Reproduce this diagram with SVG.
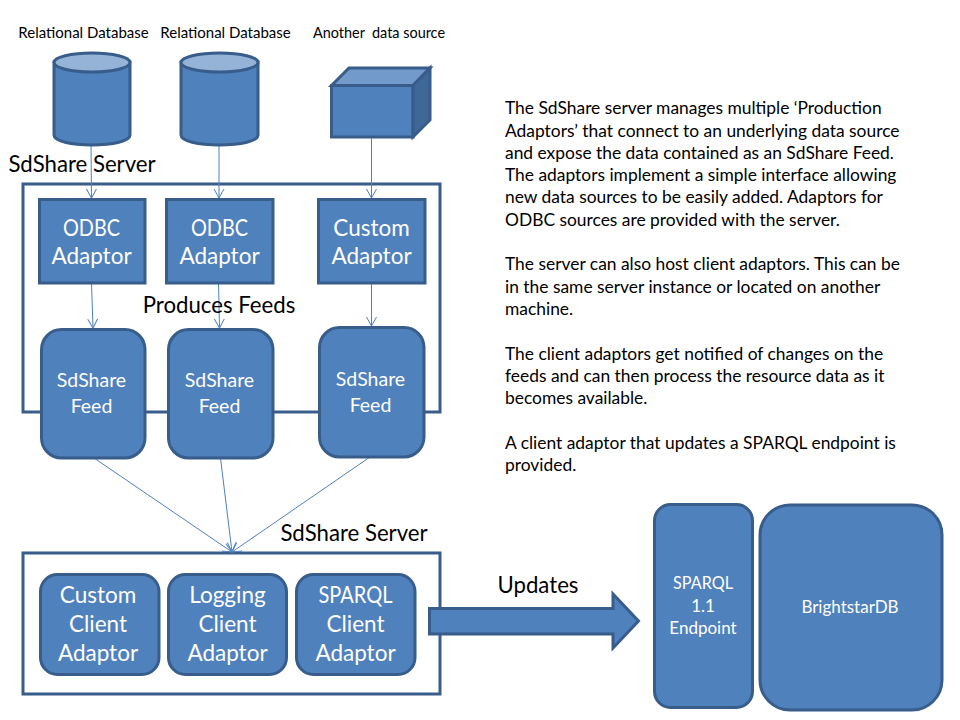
<svg xmlns="http://www.w3.org/2000/svg" width="960" height="720" viewBox="0 0 960 720">
<style>
text{font-family:Lato,"Open Sans",sans-serif;text-anchor:middle}
.s{fill:#4f81bd;stroke:#385d8a;stroke-width:3}
.f{fill:none;stroke:#385d8a;stroke-width:3}
.c{fill:none;stroke:#4f81bd;stroke-width:1;marker-end:url(#a)}
.w{fill:#fff}
.k{fill:#000}
.t22{font-size:22.500px}.t20{font-size:19.500px}.t13{font-size:15px}.t16{font-size:17px}.b{font-size:22.200px}
.p{font-size:17.400px;text-anchor:start;fill:#000}
</style>
<defs><marker id="a" markerUnits="userSpaceOnUse" markerWidth="14" markerHeight="12" refX="10" refY="6" orient="auto"><path d="M1 1L10 6L1 11" fill="none" stroke="#4f81bd" stroke-width="1"/></marker></defs>
<rect width="960" height="720" fill="#fff"/>
<g id="server-top"><rect class="f" x="23" y="184" width="417" height="228"/></g>
<g id="server-bottom"><rect class="f" x="23" y="553" width="417" height="141"/></g>
<g id="connectors">
<path class="c" d="M91 145L91.500 198"/><path class="c" d="M219 145L219 198"/><path class="c" d="M371.500 137L371.500 198"/>
<path class="c" d="M91.500 283L93 328"/><path class="c" d="M218.500 283L219.500 328"/><path class="c" d="M371.500 283L371.500 326"/>
<path class="c" d="M94 458L232 552"/><path class="c" d="M220.500 458L232 552"/><path class="c" d="M370 457L232 552"/>
</g>
<g id="db1"><path class="s" d="M54 62V135C54 141 71 145 92 145S130 141 130 135V62Z"/><ellipse cx="92" cy="62.500" rx="38" ry="9.500" fill="#95b3d7" stroke="#385d8a" stroke-width="3"/></g>
<g id="db2"><path class="s" d="M181 62V135C181 141 198 145 219.500 145S258 141 258 135V62Z"/><ellipse cx="219.500" cy="62.500" rx="38.500" ry="9.500" fill="#95b3d7" stroke="#385d8a" stroke-width="3"/></g>
<g id="source"><rect class="s" x="331.500" y="85.500" width="81.500" height="51.500"/><path d="M331.500 85.500L349 68H430L413 85.500Z" fill="#729aca" stroke="#385d8a" stroke-width="3"/><path d="M413 85.500L430 68V120L413 137Z" fill="#3f6797" stroke="#385d8a" stroke-width="3"/></g>
<g id="labels" class="k">
<text class="t13" x="83.500" y="38">Relational Database</text>
<text class="t13" x="225.500" y="38">Relational Database</text>
<text class="t13" x="379" y="38" textLength="132" lengthAdjust="spacingAndGlyphs" xml:space="preserve">Another  data source</text>
<text class="b" x="82" y="172">SdShare Server</text>
<text class="b" x="219" y="313">Produces Feeds</text>
<text class="b" x="354" y="541">SdShare Server</text>
<text class="b" x="538" y="593">Updates</text>
</g>
<g id="odbc1"><rect class="s" x="39.500" y="199.500" width="105.500" height="83.500"/><text class="w t22" x="91.500" y="235.500" textLength="57" lengthAdjust="spacingAndGlyphs">ODBC</text><text class="w t22" x="91.500" y="263.500">Adaptor</text></g>
<g id="odbc2"><rect class="s" x="166.500" y="199.500" width="106.500" height="83.500"/><text class="w t22" x="219.500" y="235.500" textLength="57" lengthAdjust="spacingAndGlyphs">ODBC</text><text class="w t22" x="219.500" y="263.500">Adaptor</text></g>
<g id="custom"><rect class="s" x="318.500" y="199.500" width="106.500" height="83.500"/><text class="w t22" x="371.500" y="235.500">Custom</text><text class="w t22" x="371.500" y="263.500">Adaptor</text></g>
<g id="feed1"><rect class="s" x="41.500" y="329.500" width="103.500" height="128.500" rx="20"/><text class="w t20" x="91.500" y="387">SdShare</text><text class="w t20" x="91.500" y="413">Feed</text></g>
<g id="feed2"><rect class="s" x="168.500" y="329.500" width="104.500" height="128.500" rx="20"/><text class="w t20" x="219.500" y="387">SdShare</text><text class="w t20" x="219.500" y="413">Feed</text></g>
<g id="feed3"><rect class="s" x="319.500" y="327.500" width="104.500" height="129.500" rx="20"/><text class="w t20" x="370.500" y="386">SdShare</text><text class="w t20" x="370.500" y="412">Feed</text></g>
<g id="client1"><rect class="s" x="40.500" y="574.500" width="118.500" height="100" rx="17"/><text class="w t22" x="98" y="602.500">Custom</text><text class="w t22" x="98" y="631.500">Client</text><text class="w t22" x="98" y="660.500">Adaptor</text></g>
<g id="client2"><rect class="s" x="168.500" y="574.500" width="118" height="100" rx="17"/><text class="w t22" x="227.500" y="602.500">Logging</text><text class="w t22" x="227.500" y="631.500">Client</text><text class="w t22" x="227.500" y="660.500">Adaptor</text></g>
<g id="client3"><rect class="s" x="296.500" y="574.500" width="118.500" height="100" rx="17"/><text class="w t22" x="355.500" y="602.500" textLength="74" lengthAdjust="spacingAndGlyphs">SPARQL</text><text class="w t22" x="355.500" y="631.500">Client</text><text class="w t22" x="355.500" y="660.500">Adaptor</text></g>
<g id="updates-arrow"><path class="s" d="M429.500 608.500H613V594L638.500 621L613 648V634H429.500Z"/></g>
<g id="endpoint"><rect class="s" x="654.500" y="504.500" width="98" height="203" rx="16"/><text class="w t16" x="703" y="589" textLength="60" lengthAdjust="spacingAndGlyphs">SPARQL</text><text class="w t16" x="703" y="612">1.1</text><text class="w t16" x="703" y="634">Endpoint</text></g>
<g id="brightstar"><rect class="s" x="760" y="505" width="182" height="205" rx="30"/><text class="w t16" x="850" y="613">BrightstarDB</text></g>
<g id="description">
<text class="p" x="505" y="114">The SdShare server manages multiple ‘Production</text>
<text class="p" x="505" y="137">Adaptors’ that connect to an underlying data source</text>
<text class="p" x="505" y="159">and expose the data contained as an SdShare Feed.</text>
<text class="p" x="505" y="181">The adaptors implement a simple interface allowing</text>
<text class="p" x="505" y="203">new data sources to be easily added. Adaptors for</text>
<text class="p" x="505" y="226">ODBC sources are provided with the server.</text>
<text class="p" x="505" y="270">The server can also host client adaptors. This can be</text>
<text class="p" x="505" y="293">in the same server instance or located on another</text>
<text class="p" x="505" y="315">machine.</text>
<text class="p" x="505" y="360">The client adaptors get notified of changes on the</text>
<text class="p" x="505" y="382">feeds and can then process the resource data as it</text>
<text class="p" x="505" y="404">becomes available.</text>
<text class="p" x="505" y="449">A client adaptor that updates a SPARQL endpoint is</text>
<text class="p" x="505" y="471">provided.</text>
</g>
</svg>
